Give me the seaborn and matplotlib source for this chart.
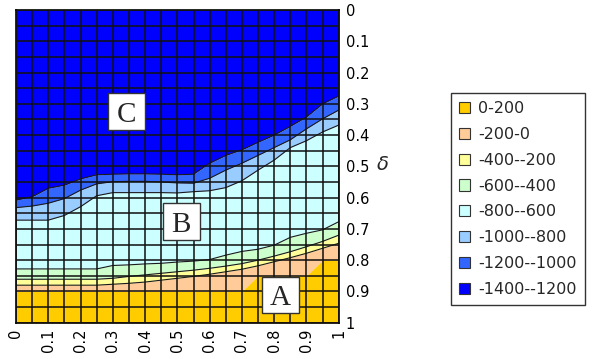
import numpy as np
import matplotlib
matplotlib.use("Agg")
import matplotlib.pyplot as plt
from matplotlib.patches import Patch, Rectangle
import seaborn as sns

# x positions of the grid (0 .. 1, step 0.05)
x_vals = [0.0, 0.05, 0.1, 0.15, 0.2, 0.25, 0.3, 0.35, 0.4, 0.45, 0.5,
          0.55, 0.6, 0.65, 0.7, 0.75, 0.8, 0.85, 0.9, 0.95, 1.0]

# delta where each contour band ends, top -> bottom
b_1200 = [0.608, 0.597, 0.570, 0.560, 0.540, 0.527, 0.525, 0.524, 0.524, 0.525, 0.527,
          0.525, 0.490, 0.465, 0.447, 0.423, 0.400, 0.372, 0.342, 0.300, 0.275]
b_1000 = [0.632, 0.627, 0.618, 0.603, 0.576, 0.556, 0.549, 0.548, 0.548, 0.550, 0.553,
          0.554, 0.538, 0.512, 0.490, 0.465, 0.440, 0.415, 0.380, 0.348, 0.320]
b_800 = [0.672, 0.672, 0.672, 0.657, 0.629, 0.594, 0.584, 0.584, 0.584, 0.584, 0.585,
         0.581, 0.578, 0.568, 0.546, 0.512, 0.480, 0.440, 0.418, 0.390, 0.368]
b_600 = [0.828, 0.828, 0.828, 0.828, 0.828, 0.828, 0.817, 0.815, 0.812, 0.810, 0.806,
         0.803, 0.798, 0.784, 0.772, 0.765, 0.752, 0.727, 0.714, 0.703, 0.677]
b_400 = [0.861, 0.861, 0.861, 0.861, 0.861, 0.861, 0.858, 0.852, 0.847, 0.842, 0.837,
         0.832, 0.826, 0.819, 0.811, 0.800, 0.787, 0.773, 0.757, 0.740, 0.720]
b_200 = [0.880, 0.880, 0.880, 0.880, 0.880, 0.880, 0.877, 0.874, 0.870, 0.864, 0.858,
         0.852, 0.845, 0.837, 0.829, 0.818, 0.805, 0.792, 0.778, 0.762, 0.746]
b_0 = [0.900, 0.900, 0.900, 0.900, 0.900, 0.900, 0.900, 0.900, 0.900, 0.900, 0.900,
       0.900, 0.900, 0.900, 0.900, 0.850, 0.850, 0.850, 0.850, 0.800, 0.800]

# legend labels (top of legend -> bottom)
band_labels = ['0-200', '-200-0', '-400--200', '-600--400',
               '-800--600', '-1000--800', '-1200--1000', '-1400--1200']
band_colors = ['#FFCC00', '#FFCC99', '#FFFF99', '#CCFFCC',
               '#CCFFFF', '#99CCFF', '#3366FF', '#0000FF']

x_tick_labels = ['0', '0.1', '0.2', '0.3', '0.4', '0.5', '0.6', '0.7', '0.8', '0.9', '1']
y_tick_labels = ['0', '0.1', '0.2', '0.3', '0.4', '0.5', '0.6', '0.7', '0.8', '0.9', '1']

sns.set_theme(style="white")
plt.rcParams['font.family'] = ['DejaVu Sans']

fig = plt.figure(figsize=(5.97, 3.59), dpi=100)
ax = fig.add_axes([0.0268, 0.1011, 0.5406, 0.8710])

x = np.array(x_vals)
zero = np.zeros_like(x)
one = np.ones_like(x)
# bands from top (deepest) to bottom
edges = [zero, b_1200, b_1000, b_800, b_600, b_400, b_200, b_0, one]
colors_top_down = band_colors[::-1]
for i in range(8):
    ax.fill_between(x, edges[i], edges[i + 1], color=colors_top_down[i], lw=0, zorder=1)

# contour boundary lines
for b in [b_1200, b_1000, b_800, b_600, b_400, b_200]:
    sns.lineplot(x=x, y=b, ax=ax, color='#1a1a1a', lw=0.8, zorder=2, legend=False)

ax.set_xlim(0, 1)
ax.set_ylim(1, 0)

ticks = np.linspace(0, 1, 11)
fine = np.linspace(0, 1, 21)
ax.set_xticks(ticks)
ax.set_xticklabels(x_tick_labels, rotation=90, fontsize=10.5)
ax.set_xticks(fine, minor=True)
ax.set_yticks(ticks)
ax.set_yticklabels(y_tick_labels, fontsize=10.5)
ax.set_yticks(fine, minor=True)
ax.yaxis.tick_right()
ax.tick_params(axis='both', which='both', length=0, colors='black')
ax.tick_params(axis='x', pad=4)
ax.tick_params(axis='y', pad=5)

ax.set_axisbelow(False)
ax.grid(True, which='both', color='#111111', lw=1.3, alpha=0.85, zorder=3)
for s in ax.spines.values():
    s.set_color('black')
    s.set_linewidth(1.2)

ax.set_ylabel('δ', rotation=0, fontsize=14, style='italic')
ax.yaxis.set_label_position('right')
ax.yaxis.set_label_coords(1.137, 0.536)

# region labels
for letter, cx, cy in [('C', 0.342, 0.325), ('B', 0.512, 0.677), ('A', 0.819, 0.911)]:
    w, h = 0.114, 0.117
    ax.add_patch(Rectangle((cx - w / 2, cy - h / 2), w, h, facecolor='white',
                           edgecolor='#333333', lw=1, zorder=5))
    ax.text(cx, cy, letter, ha='center', va='center_baseline', fontsize=21,
            family='Liberation Serif', zorder=6)

handles = [Patch(facecolor=c, edgecolor='#333333', lw=0.8) for c in band_colors]
leg = fig.legend(handles, band_labels, loc='upper left',
                 bbox_to_anchor=(451 / 597, 1 - 93 / 359), frameon=True,
                 fancybox=False, edgecolor='black', fontsize=11.5,
                 handlelength=0.7, handleheight=0.7, handletextpad=0.5,
                 labelspacing=0.68, borderpad=0.5, borderaxespad=0)
leg.get_frame().set_linewidth(1)

fig.savefig('out.png', dpi=100)
